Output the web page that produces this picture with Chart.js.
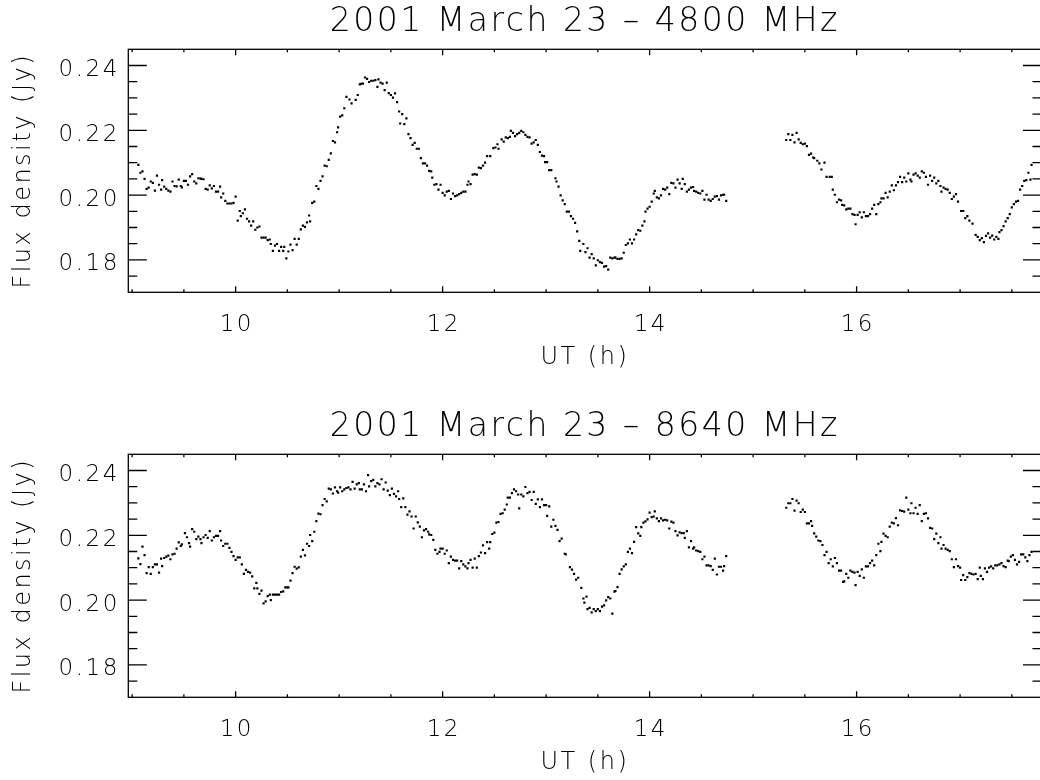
<!DOCTYPE html>
<html><head><meta charset="utf-8">
<script src="https://cdn.jsdelivr.net/npm/chart.js@4/dist/chart.umd.min.js"></script>
<style>
html,body{margin:0;padding:0;background:#fff;overflow:hidden;width:1040px;height:780px;}
#wrap{position:relative;width:1040px;height:780px;overflow:hidden;background:#fff;}
canvas{position:absolute;left:0;}
#c1{top:0;} #c2{top:405px;}
</style></head><body>
<div id="wrap"><canvas id="c1" width="1043" height="375"></canvas><canvas id="c2" width="1043" height="375"></canvas></div>
<script>
// ---- Data ----
const titles = ['2001 March 23 \u2013 4800 MHz', '2001 March 23 \u2013 8640 MHz'];
const xTitle = 'UT (h)';
const yTitle = 'Flux density (Jy)';
const xTickValues = [10, 12, 14, 16];
const xMinorTicks = [9, 9.5, 10.5, 11, 11.5, 12.5, 13, 13.5, 14.5, 15, 15.5, 16.5, 17, 17.5];
const yTickValues = [0.18, 0.20, 0.22, 0.24];
const yMinorTicks = [0.175, 0.185, 0.19, 0.195, 0.205, 0.21, 0.215, 0.225, 0.23, 0.235];

const ut4800 = [
9.06,9.08,9.10,9.12,9.14,9.16,9.18,9.20,9.22,9.24,9.26,9.28,9.29,9.31,9.33,9.35,9.37,9.39,9.41,9.43,
9.45,9.47,9.48,9.50,9.52,9.54,9.56,9.58,9.60,9.62,9.64,9.66,9.67,9.69,9.71,9.73,9.75,9.77,9.79,9.81,
9.83,9.85,9.86,9.88,9.90,9.92,9.94,9.96,9.98,10.00,10.02,10.04,10.05,10.07,10.09,10.11,10.13,10.15,10.17,10.19,
10.21,10.23,10.25,10.27,10.29,10.31,10.33,10.34,10.36,10.38,10.40,10.42,10.44,10.46,10.47,10.49,10.51,10.53,10.55,10.57,
10.59,10.61,10.63,10.65,10.67,10.69,10.71,10.72,10.74,10.76,10.78,10.80,10.82,10.84,10.86,10.88,10.90,10.92,10.94,10.96,
10.98,10.99,11.01,11.03,11.05,11.07,11.10,11.12,
11.16,11.18,11.20,11.21,11.23,11.25,11.27,11.29,11.31,11.33,11.35,11.37,11.38,11.40,11.42,11.44,11.46,11.48,11.50,11.52,
11.54,11.56,11.58,11.59,11.61,11.63,11.65,11.67,11.69,11.71,11.73,11.75,11.77,11.79,11.81,11.83,11.85,11.87,11.89,11.90,
11.92,11.94,11.96,11.98,12.00,12.02,12.04,12.06,12.08,12.10,12.12,12.14,12.16,12.18,12.20,12.22,12.24,12.25,12.27,12.29,
12.31,12.33,12.35,12.37,12.39,12.41,12.43,12.46,12.49,12.51,12.53,12.54,12.57,12.59,12.61,12.63,12.65,12.66,12.68,12.70,
12.72,12.74,12.76,12.78,12.80,12.82,12.84,12.86,12.88,12.90,12.92,12.94,12.96,12.98,12.99,13.01,13.03,13.05,13.09,13.10,
13.12,13.14,13.16,13.18,13.20,13.22,13.24,13.26,13.28,13.30,13.32,13.33,13.36,
13.38,13.40,13.42,13.44,13.46,13.48,13.50,13.52,13.54,13.56,13.58,13.60,13.62,13.64,13.66,13.67,13.69,13.71,13.73,13.75,
13.77,13.79,13.81,13.83,13.85,13.87,13.89,13.91,13.93,13.95,13.96,13.98,14.00,14.02,14.04,14.05,14.07,14.09,14.11,14.13,
14.15,14.17,14.19,14.21,14.23,14.25,14.27,14.29,14.31,14.32,14.34,14.36,14.38,14.40,14.42,14.43,14.45,14.47,14.49,14.51,
14.53,14.55,14.57,14.59,14.61,14.63,14.65,14.67,14.69,14.71,14.72,14.74,
15.32,15.34,15.36,15.38,15.40,15.42,15.44,15.46,15.48,15.50,15.52,15.54,15.56,15.58,15.59,
15.62,15.64,15.66,15.69,15.71,15.74,15.76,15.77,15.79,15.81,15.83,15.85,15.86,15.88,15.90,15.92,15.94,15.96,15.98,15.99,
16.01,16.03,16.05,16.07,16.09,16.11,16.13,16.15,16.17,16.19,16.21,16.23,16.24,16.26,16.28,16.30,16.32,16.34,16.36,16.38,
16.40,16.42,16.44,16.46,16.48,16.50,16.52,16.53,16.55,16.57,16.59,16.61,16.63,16.65,16.67,16.69,16.71,16.73,16.75,16.77,
16.79,16.81,16.82,16.84,16.86,16.88,16.90,16.92,16.94,16.96,16.98,17.01,17.03,17.05,17.07,17.09,17.12,17.15,17.17,17.19,
17.21,17.23,17.25,17.27,17.29,17.31,17.33,17.35,17.37,17.38,17.40,17.42,17.44,17.46,17.48,17.50,17.52,17.54,17.56,17.58,
17.60,17.62,17.64,17.66,17.68,17.69];
const flux4800 = [
.2093,.2069,.2073,.2050,.2019,.2023,.2042,.2038,.2014,.2060,.2032,.2017,.2046,.2026,.2019,.2014,.2011,.2042,.2028,.2027,
.2048,.2028,.2024,.2044,.2044,.2032,.2058,.2065,.2042,.2036,.2052,.2051,.2050,.2049,.2019,.2017,.2030,.2021,.2028,.2011,
.2011,.2026,.1993,.2005,.1982,.1974,.1974,.1974,.1976,.1995,.1921,.1951,.1935,.1944,.1956,.1927,.1919,.1906,.1919,.1893,
.1900,.1903,.1869,.1869,.1869,.1861,.1863,.1849,.1828,.1844,.1849,.1828,.1840,.1828,.1840,.1805,.1826,.1847,.1830,.1865,
.1847,.1865,.1894,.1906,.1902,.1916,.1937,.1919,.1976,.1980,.2028,.2019,.2044,.2058,.2091,.2089,.2109,.2129,.2167,.2163,
.2194,.2209,.2242,.2246,.2268,.2303,.2295,.2283,
.2294,.2309,.2342,.2343,.2344,.2363,.2359,.2349,.2353,.2353,.2355,.2334,.2357,.2347,.2344,.2324,.2347,.2315,.2309,.2301,
.2314,.2287,.2258,.2221,.2250,.2219,.2237,.2188,.2176,.2155,.2161,.2143,.2143,.2114,.2098,.2098,.2091,.2075,.2073,.2054,
.2032,.2034,.2017,.2032,.2007,.1999,.2011,.2013,.1988,.2005,.1997,.1999,.2003,.2007,.2011,.2011,.2032,.2042,.2034,.2063,
.2065,.2063,.2085,.2083,.2091,.2100,.2120,.2120,.2145,.2147,.2157,.2143,.2172,.2165,.2178,.2176,.2180,.2198,.2192,.2182,
.2188,.2192,.2198,.2194,.2186,.2180,.2178,.2159,.2163,.2170,.2155,.2133,.2122,.2120,.2102,.2102,.2077,.2077,.2052,.2042,
.2026,.1999,.1984,.1972,.1949,.1949,.1935,.1927,.1914,.1888,.1859,.1828,.1849,
.1824,.1836,.1807,.1818,.1805,.1783,.1799,.1793,.1791,.1779,.1781,.1770,.1807,.1805,.1807,.1807,.1803,.1803,.1805,.1822,
.1846,.1851,.1863,.1851,.1863,.1879,.1892,.1890,.1906,.1919,.1949,.1958,.1964,.1980,.2005,.2013,.1993,.1990,.1999,.2019,
.2017,.2023,.2003,.2038,.2036,.2023,.2048,.2036,.2019,.2050,.2034,.2011,.2017,.2023,.2025,.2013,.2011,.2007,.2005,.2013,
.1986,.2001,.1986,.1982,.1988,.1995,.1997,.1986,.1999,.2001,.2001,.1982,
.2170,.2188,.2170,.2186,.2163,.2192,.2172,.2161,.2157,.2159,.2151,.2124,.2128,.2116,.2114,
.2106,.2098,.2079,.2100,.2056,.2056,.2056,.2017,.2001,.1978,.1986,.1984,.1970,.1968,.1956,.1958,.1958,.1941,.1939,.1910,
.1939,.1947,.1931,.1947,.1935,.1935,.1941,.1958,.1970,.1941,.1972,.1978,.1990,.1990,.2007,.1993,.2011,.2030,.2015,.2030,
.2040,.2056,.2040,.2054,.2042,.2067,.2048,.2042,.2063,.2067,.2060,.2054,.2073,.2069,.2056,.2032,.2060,.2044,.2054,.2036,
.2044,.2028,.2011,.2023,.2019,.2017,.2007,.1988,.1995,.2003,.1980,.1951,.1951,.1929,.1935,.1921,.1912,.1877,.1871,.1861,
.1867,.1855,.1874,.1882,.1869,.1875,.1863,.1871,.1865,.1886,.1892,.1904,.1919,.1929,.1941,.1962,.1972,.1980,.1982,.2017,
.2028,.2044,.2046,.2069,.2048,.2093];

const ut8640 = [
9.06,9.08,9.10,9.12,9.14,9.16,9.18,9.20,9.22,9.24,9.26,9.28,9.29,9.31,9.33,9.35,9.37,9.39,9.41,9.43,
9.45,9.47,9.48,9.51,9.53,9.55,9.56,9.58,9.60,9.62,9.64,9.66,9.67,9.69,9.71,9.73,9.75,9.77,9.79,9.81,
9.83,9.85,9.86,9.88,9.90,9.92,9.94,9.96,9.98,10.00,10.02,10.04,10.06,10.08,10.10,10.12,10.14,10.16,10.18,10.20,
10.21,10.23,10.25,10.27,10.29,10.31,10.33,10.34,10.36,10.38,10.40,10.42,10.44,10.46,10.48,10.50,10.51,10.53,10.55,10.57,
10.59,10.61,10.63,10.65,10.67,10.69,10.71,10.72,10.74,10.76,10.78,10.80,10.82,10.84,10.86,10.88,10.90,10.92,10.94,10.96,
10.98,10.99,11.01,11.03,11.05,11.07,11.09,11.11,11.13,11.15,11.17,11.19,
11.20,11.22,11.24,11.26,11.28,11.29,11.31,11.33,11.35,11.37,11.39,11.41,11.43,11.45,11.47,11.49,11.51,11.53,11.55,11.57,
11.58,11.60,11.62,11.64,11.66,11.68,11.70,11.72,11.74,11.76,11.78,11.80,11.82,11.84,11.86,11.87,11.89,11.91,11.93,11.95,
11.97,11.98,12.00,12.02,12.04,12.06,12.08,12.10,12.12,12.14,12.16,12.18,12.20,12.22,12.24,12.25,12.27,12.29,12.31,12.33,
12.35,12.37,12.39,12.41,12.43,12.45,12.46,12.48,12.50,12.52,12.54,12.56,12.58,12.60,12.62,12.63,12.65,12.67,12.69,12.71,
12.73,12.74,12.76,12.78,12.80,12.82,12.84,12.86,12.88,12.90,12.92,12.94,12.96,12.98,13.00,13.01,13.03,13.05,13.07,13.09,
13.11,13.13,13.15,13.18,13.19,13.23,13.25,13.27,13.29,13.31,13.34,13.36,13.37,13.39,
13.40,13.42,13.44,13.46,13.48,13.50,13.52,13.54,13.56,13.58,13.60,13.62,13.64,13.66,13.67,13.69,13.71,13.73,13.75,13.77,
13.79,13.81,13.83,13.85,13.87,13.89,13.91,13.92,13.94,13.96,13.98,14.00,14.02,14.04,14.05,14.07,14.09,14.11,14.13,14.15,
14.17,14.19,14.21,14.23,14.25,14.27,14.29,14.31,14.33,14.34,14.36,14.38,14.40,14.42,14.43,14.45,14.47,14.49,14.51,14.53,
14.55,14.57,14.59,14.61,14.63,14.65,14.67,14.69,14.71,14.72,14.74,
15.32,15.34,15.36,15.38,15.40,15.42,15.44,15.46,15.48,15.50,15.52,15.54,15.56,15.57,15.59,15.61,15.63,
15.65,15.67,15.69,15.71,15.73,15.75,15.77,15.79,15.81,15.83,15.85,15.87,15.88,15.90,15.92,15.94,15.96,15.98,15.99,
16.01,16.03,16.05,16.07,16.09,16.11,16.13,16.15,16.17,16.19,16.21,16.23,16.24,16.26,16.28,16.30,16.32,16.34,16.36,16.38,
16.40,16.42,16.44,16.46,16.48,16.50,16.52,16.53,16.55,16.57,16.59,16.61,16.63,16.65,16.67,16.69,16.71,16.73,16.75,16.77,
16.79,16.81,16.82,16.84,16.86,16.88,16.90,16.92,16.94,16.96,16.98,17.00,17.01,17.03,17.05,17.07,17.09,17.11,17.13,17.15,
17.17,17.19,17.20,17.22,17.24,17.26,17.28,17.30,17.32,17.34,17.36,17.38,17.40,17.42,17.44,17.46,17.47,17.49,17.51,17.53,
17.55,17.57,17.59,17.61,17.63,17.65,17.67,17.69];
const flux8640 = [
.2129,.2111,.2165,.2139,.2083,.2102,.2081,.2102,.2110,.2110,.2085,.2128,.2105,.2130,.2134,.2137,.2126,.2141,.2143,.2159,
.2178,.2167,.2172,.2207,.2194,.2176,.2165,.2219,.2211,.2188,.2196,.2188,.2176,.2194,.2201,.2192,.2213,.2184,.2194,.2198,
.2198,.2213,.2184,.2167,.2174,.2174,.2161,.2149,.2136,.2124,.2132,.2132,.2110,.2081,.2093,.2087,.2085,.2073,.2036,.2053,
.2036,.2019,.2029,.1990,.1996,.2012,.2017,.2000,.2017,.2017,.2017,.2017,.2025,.2027,.2039,.2039,.2039,.2060,.2083,.2103,
.2097,.2101,.2134,.2155,.2138,.2174,.2167,.2201,.2182,.2211,.2244,.2267,.2265,.2293,.2312,.2305,.2344,.2342,.2329,.2348,
.2336,.2332,.2348,.2336,.2342,.2346,.2348,.2342,.2365,.2344,.2357,.2361,
.2342,.2342,.2357,.2336,.2386,.2351,.2367,.2371,.2351,.2361,.2357,.2373,.2342,.2363,.2338,.2324,.2344,.2328,.2320,.2336,
.2312,.2287,.2314,.2287,.2264,.2274,.2258,.2221,.2258,.2240,.2227,.2194,.2215,.2219,.2211,.2203,.2201,.2186,.2155,.2143,
.2149,.2159,.2159,.2143,.2153,.2114,.2134,.2124,.2122,.2122,.2098,.2120,.2110,.2104,.2098,.2114,.2124,.2100,.2128,.2100,
.2136,.2147,.2169,.2145,.2179,.2159,.2179,.2204,.2208,.2239,.2241,.2266,.2268,.2279,.2295,.2316,.2316,.2330,.2342,.2336,
.2326,.2283,.2326,.2320,.2349,.2330,.2334,.2309,.2334,.2297,.2311,.2287,.2311,.2293,.2293,.2260,.2289,.2227,.2248,.2229,
.2217,.2182,.2190,.2143,.2141,.2102,.2094,.2081,.2063,.2069,.2038,.2005,.1992,.2011,
.1972,.1976,.1962,.1972,.1966,.1972,.1966,.1980,.1984,.1999,.2009,.2005,.1958,.2026,.2028,.2040,.2081,.2095,.2104,.2110,
.2149,.2159,.2145,.2180,.2225,.2206,.2198,.2225,.2239,.2243,.2249,.2270,.2256,.2258,.2274,.2252,.2244,.2252,.2246,.2248,
.2246,.2221,.2242,.2239,.2213,.2200,.2209,.2207,.2207,.2192,.2213,.2163,.2182,.2159,.2163,.2153,.2151,.2149,.2126,.2134,
.2107,.2107,.2105,.2093,.2128,.2079,.2103,.2103,.2091,.2105,.2136,
.2285,.2299,.2299,.2312,.2276,.2307,.2299,.2272,.2279,.2272,.2237,.2237,.2244,.2229,.2206,.2196,.2184,
.2182,.2170,.2139,.2149,.2114,.2126,.2104,.2130,.2114,.2091,.2091,.2056,.2058,.2081,.2069,.2091,.2087,.2085,.2046,
.2087,.2075,.2095,.2069,.2104,.2104,.2114,.2122,.2107,.2139,.2174,.2151,.2180,.2205,.2198,.2194,.2227,.2239,.2237,.2253,
.2231,.2277,.2275,.2273,.2316,.2279,.2268,.2299,.2268,.2285,.2266,.2293,.2244,.2266,.2268,.2252,.2223,.2221,.2188,.2205,
.2176,.2194,.2159,.2170,.2159,.2155,.2151,.2126,.2102,.2126,.2105,.2100,.2062,.2077,.2062,.2071,.2083,.2081,.2079,.2081,
.2065,.2100,.2075,.2065,.2098,.2087,.2100,.2104,.2098,.2107,.2107,.2110,.2114,.2105,.2102,.2122,.2120,.2134,.2139,.2124,
.2110,.2118,.2141,.2141,.2132,.2120,.2139,.2149];

// ---- Styling ----
const FONT = "'DejaVu Sans', 'Liberation Sans', sans-serif";
const INK = '#000';
const LETTER_SPACING = '2.5px';

const spacingPlugin = {
  id: 'spacing',
  beforeDraw(chart) { chart.ctx.letterSpacing = LETTER_SPACING; }
};

const framePlugin = {
  id: 'frame',
  afterDraw(chart) {
    const {ctx, chartArea: a, scales: {x, y}} = chart;
    ctx.save();
    ctx.strokeStyle = INK;
    ctx.lineWidth = 1.3;
    ctx.strokeRect(a.left, a.top, a.right - a.left, a.bottom - a.top);
    ctx.beginPath();
    const xt = (v, len) => {
      const p = x.getPixelForValue(v);
      ctx.moveTo(p, a.bottom); ctx.lineTo(p, a.bottom - len);
      ctx.moveTo(p, a.top); ctx.lineTo(p, a.top + len);
    };
    const yt = (v, len) => {
      const p = y.getPixelForValue(v);
      ctx.moveTo(a.left, p); ctx.lineTo(a.left + len, p);
      ctx.moveTo(a.right, p); ctx.lineTo(a.right - len, p);
    };
    xTickValues.forEach(v => xt(v, 6));
    xMinorTicks.forEach(v => xt(v, 3));
    yTickValues.forEach(v => yt(v, 18.5));
    yMinorTicks.forEach(v => yt(v, 9));
    ctx.stroke();
    ctx.restore();
  }
};

function makeChart(id, title, ut, flux) {
  const pts = ut.map((t, i) => ({x: t, y: flux[i]}));
  return new Chart(document.getElementById(id), {
    type: 'scatter',
    data: { datasets: [{ data: pts, pointStyle: 'rect', pointRadius: 1.55, pointHoverRadius: 1.55,
      pointBackgroundColor: INK, pointBorderWidth: 0, showLine: false }] },
    options: {
      responsive: false, animation: false, devicePixelRatio: 1,
      layout: { padding: { left: 0, right: 1.5, top: 0, bottom: 0 } },
      plugins: {
        legend: { display: false }, tooltip: { enabled: false },
        title: { display: true, text: title, fullSize: false, color: INK,
          font: { family: FONT, size: 33, weight: 200, lineHeight: 1 },
          padding: { top: 6, bottom: 10.3 } }
      },
      scales: {
        x: {
          type: 'linear', position: 'bottom', min: 8.963, max: 17.786,
          grid: { display: false, drawTicks: false }, border: { display: false },
          afterBuildTicks: s => { s.ticks = xTickValues.map(v => ({ value: v })); },
          afterFit: s => { s.height = 82.7; },
          ticks: { autoSkip: false, maxRotation: 0, padding: 21, labelOffset: 1.2, color: INK,
            font: { family: FONT, size: 23, weight: 200, lineHeight: 1 },
            callback: v => String(v) },
          title: { display: true, text: xTitle, color: INK,
            font: { family: FONT, size: 24, weight: 200, lineHeight: 1 },
            padding: { top: 0, bottom: 5 } }
        },
        y: {
          type: 'linear', position: 'left', min: 0.17, max: 0.245,
          grid: { display: false, drawTicks: false }, border: { display: false },
          afterBuildTicks: s => { s.ticks = yTickValues.map(v => ({ value: v })); },
          afterFit: s => { s.width = 128.3; },
          ticks: { autoSkip: false, padding: 8.5, labelOffset: 4.5, color: INK,
            font: { family: FONT, size: 23, weight: 200, lineHeight: 1 },
            callback: v => Number(v).toFixed(2) },
          title: { display: true, text: yTitle, color: INK,
            font: { family: FONT, size: 24, weight: 200, lineHeight: 1 },
            padding: { top: 12, bottom: 0 } }
        }
      }
    },
    plugins: [spacingPlugin, framePlugin]
  });
}

makeChart('c1', titles[0], ut4800, flux4800);
makeChart('c2', titles[1], ut8640, flux8640);
</script>
</body></html>
